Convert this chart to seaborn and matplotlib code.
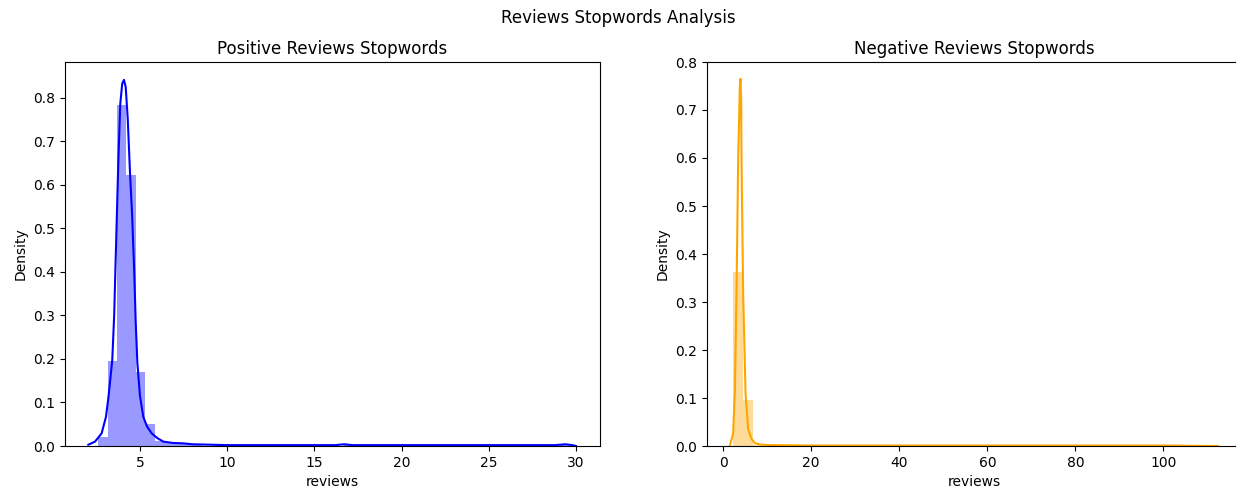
import numpy as np
import pandas as pd
import matplotlib
matplotlib.use("Agg")
import matplotlib.pyplot as plt
import seaborn as sns

# ---------------- data ----------------
suptitle = "Reviews Stopwords Analysis"
titles = ["Positive Reviews Stopwords", "Negative Reviews Stopwords"]

# Positive reviews: histogram (50 bins from 2.6 to 29.6) density heights
pos_bin_min, pos_bin_max = 2.6, 29.6
pos_hist = [0.020, 0.195, 0.784, 0.623, 0.169, 0.050, 0.012, 0.006, 0.006, 0.004,
            0.002, 0.001, 0.001, 0.001, 0.000, 0.001, 0.000, 0.000, 0.000, 0.000,
            0.000, 0.000, 0.000, 0.000, 0.000, 0.000, 0.003, 0.000, 0.000, 0.000,
            0.000, 0.000, 0.000, 0.000, 0.000, 0.000, 0.000, 0.000, 0.000, 0.000,
            0.000, 0.000, 0.000, 0.000, 0.000, 0.000, 0.000, 0.000, 0.000, 0.003]
# Positive reviews: KDE curve points
pos_kde_x = [2.04, 2.42, 2.80, 3.05, 3.20, 3.41, 3.52, 3.60, 3.76, 3.87, 3.98, 4.08,
             4.18, 4.30, 4.43, 4.55, 4.67, 4.75, 4.85, 5.00, 5.19, 5.40, 5.67, 6.00,
             6.34, 6.90, 7.50, 8.00, 9.00, 10.0, 12.0, 15.0, 16.2, 16.7, 17.2,
             20.0, 25.0, 28.8, 29.4, 29.8, 30.0]
pos_kde_y = [0.003, 0.010, 0.029, 0.067, 0.115, 0.197, 0.300, 0.420, 0.656, 0.786, 0.832, 0.841,
             0.825, 0.750, 0.625, 0.530, 0.400, 0.290, 0.190, 0.115, 0.067, 0.045, 0.029, 0.018,
             0.010, 0.007, 0.006, 0.004, 0.003, 0.002, 0.002, 0.002, 0.002, 0.004, 0.002,
             0.002, 0.002, 0.002, 0.004, 0.002, 0.000]

# Negative reviews: histogram (50 bins from 2.3 to 112.3) density heights
neg_bin_min, neg_bin_max = 2.3, 112.3
neg_hist = [0.363, 0.096, 0.003] + [0.0] * 47
# Negative reviews: KDE curve points
neg_kde_x = [1.52, 2.27, 2.66, 3.04, 3.42, 3.80, 3.95, 4.10, 4.18, 4.55, 5.09,
             5.68, 6.45, 7.20, 8.50, 10.0, 20.0, 40.0, 60.0, 80.0, 100.0, 112.3]
neg_kde_y = [0.000, 0.026, 0.110, 0.318, 0.596, 0.750, 0.765, 0.720, 0.596, 0.318, 0.110,
             0.035, 0.015, 0.006, 0.003, 0.002, 0.001, 0.001, 0.001, 0.001, 0.001, 0.000]

colors = ["blue", "orange"]
xlabel = "reviews"
ylabel = "Density"

# ---------------- figure ----------------
W, H, DPI = 1236, 488, 100
plt.rcParams["font.family"] = ["DejaVu Sans"]
fig = plt.figure(figsize=(W / DPI, H / DPI), dpi=DPI)

def px_axes(x0, x1, y_top, y_bot):
    return fig.add_axes([x0 / W, (H - y_bot) / H, (x1 - x0) / W, (y_bot - y_top) / H])

ax1 = px_axes(65, 600, 62, 446)
ax2 = px_axes(707, 1241, 62, 446)

def draw(ax, bmin, bmax, hist, kx, ky, color, xlim, ylim, title):
    nb = len(hist)
    width = (bmax - bmin) / nb
    centers = [bmin + width * (i + 0.5) for i in range(nb)]
    df = pd.DataFrame({"x": centers, "w": hist})
    sns.histplot(data=df, x="x", weights="w", bins=nb, binrange=(bmin, bmax),
                 stat="count", color=color, alpha=0.4, linewidth=0, ax=ax)
    kdf = pd.DataFrame({"x": kx, "y": ky})
    sns.lineplot(data=kdf, x="x", y="y", color=color, linewidth=1.5, ax=ax)
    ax.set_xlim(*xlim)
    ax.set_ylim(*ylim)
    ax.set_xlabel(xlabel, fontsize=10)
    ax.set_ylabel(ylabel, fontsize=10)
    ax.set_title(title, fontsize=12)
    ax.tick_params(labelsize=10)

draw(ax1, pos_bin_min, pos_bin_max, pos_hist, pos_kde_x, pos_kde_y, colors[0],
     (0.70, 31.38), (0, 0.882), titles[0])
draw(ax2, neg_bin_min, neg_bin_max, neg_hist, neg_kde_x, neg_kde_y, colors[1],
     (-3.66, 117.6), (0, 0.8), titles[1])
ax1.set_xticks([5, 10, 15, 20, 25, 30])
ax1.set_yticks(np.arange(0, 0.81, 0.1))
ax2.set_xticks([0, 20, 40, 60, 80, 100])
ax2.set_yticks(np.arange(0, 0.81, 0.1))

fig.suptitle(suptitle, fontsize=12, y=1 - 18 / H, va="center")
fig.savefig("out.png", dpi=DPI)
